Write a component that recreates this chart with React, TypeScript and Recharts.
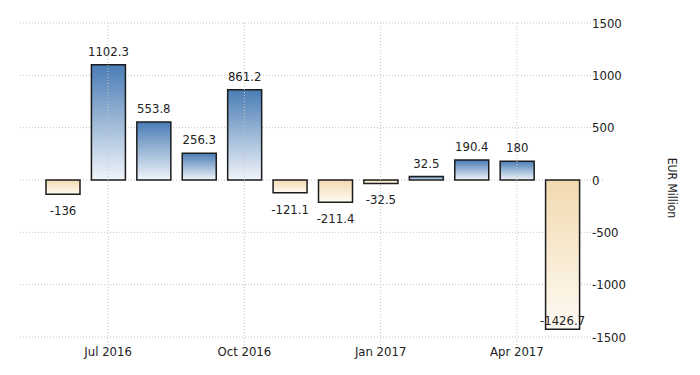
import React from "react";
import {
  BarChart,
  Bar,
  XAxis,
  YAxis,
  CartesianGrid,
  ReferenceLine,
  LabelList,
  Label,
  Cell,
} from "recharts";

// monthly current account balance, EUR million
const MONTHS = [
  "Jun 2016",
  "Jul 2016",
  "Aug 2016",
  "Sep 2016",
  "Oct 2016",
  "Nov 2016",
  "Dec 2016",
  "Jan 2017",
  "Feb 2017",
  "Mar 2017",
  "Apr 2017",
  "May 2017",
];
const BALANCE = [
  -136, 1102.3, 553.8, 256.3, 861.2, -121.1, -211.4, -32.5, 32.5, 190.4, 180,
  -1426.7,
];
const TICK_LABELS = ["Jul 2016", "Oct 2016", "Jan 2017", "Apr 2017"];
const Y_TICKS = [-1500, -1000, -500, 0, 500, 1000, 1500];

const data = MONTHS.map((m, i) => ({ month: m, value: BALANCE[i] }));

const W = 700;
const H = 375;
const MARGIN = { top: 23, right: 0, left: 20, bottom: 8 };
const X_AXIS_H = 30;
const PLOT_BOTTOM = H - MARGIN.bottom - X_AXIS_H;

const FONT = "'Liberation Sans Narrow', 'DejaVu Sans Condensed', Arial, sans-serif";
const TEXT = "#222";
const GRID = "#c4c4c4";

function ValueLabel(props: any) {
  const { x, y, width, height, value } = props;
  const top = Math.min(y, y + height);
  const bottom = Math.max(y, y + height);
  const cx = x + width / 2;
  let ty;
  if (value >= 0) ty = top - 9;
  else if (bottom + 22 > PLOT_BOTTOM) ty = bottom - 4;
  else ty = bottom + 21;
  return (
    <text
      x={cx}
      y={ty}
      textAnchor="middle"
      fill={TEXT}
      fontSize={13}
      fontFamily={FONT}
    >
      {value}
    </text>
  );
}

function AxisTitle({ viewBox }: any) {
  const cx = viewBox.x + viewBox.width - 28;
  const cy = viewBox.y + viewBox.height / 2 + 8;
  return (
    <text
      x={cx}
      y={cy}
      transform={`rotate(90, ${cx}, ${cy})`}
      textAnchor="middle"
      dominantBaseline="central"
      fill={TEXT}
      fontSize={12}
      fontFamily={FONT}
    >
      EUR Million
    </text>
  );
}

export default function App() {
  return (
    <div style={{ position: "absolute", left: 0, top: 0, background: "#fff" }}>
      <BarChart width={W} height={H} data={data} margin={MARGIN}>
        <defs>
          <linearGradient id="posFill" x1="0" y1="0" x2="0" y2="1">
            <stop offset="0%" stopColor="#4a7db5" />
            <stop offset="100%" stopColor="#f0f4fa" />
          </linearGradient>
          <linearGradient id="negFill" x1="0" y1="0" x2="0" y2="1">
            <stop offset="0%" stopColor="#f2dab0" />
            <stop offset="100%" stopColor="#fefaf3" />
          </linearGradient>
        </defs>
        <CartesianGrid vertical={false} stroke={GRID} strokeDasharray="1 2" />
        {TICK_LABELS.map((t) => (
          <ReferenceLine
            key={t}
            segment={[
              { x: t, y: 1500 },
              { x: t, y: -1580 },
            ]}
            ifOverflow="visible"
            stroke={GRID}
            strokeDasharray="1 2"
          />
        ))}
        <XAxis
          dataKey="month"
          height={X_AXIS_H}
          padding={{ left: 20, right: 18 }}
          axisLine={false}
          tickLine={false}
          tickSize={0}
          tickMargin={10}
          interval={0}
          tickFormatter={(m) => (TICK_LABELS.includes(m) ? m : "")}
          tick={{ fill: TEXT, fontSize: 13, fontFamily: FONT }}
        />
        <YAxis
          orientation="right"
          width={97}
          domain={[-1500, 1500]}
          ticks={Y_TICKS}
          axisLine={false}
          tickLine={false}
          tickSize={0}
          tickMargin={4}
          tick={{ fill: TEXT, fontSize: 13, fontFamily: FONT, dx: -15 }}
        >
          <Label content={AxisTitle} />
        </YAxis>
        <Bar dataKey="value" barSize={34} isAnimationActive={false}>
          {data.map((d, i) => (
            <Cell
              key={i}
              fill={d.value >= 0 ? "url(#posFill)" : "url(#negFill)"}
              stroke="#1c1c1c"
              strokeWidth={1.5}
            />
          ))}
          <LabelList dataKey="value" content={ValueLabel} />
        </Bar>
      </BarChart>
    </div>
  );
}
